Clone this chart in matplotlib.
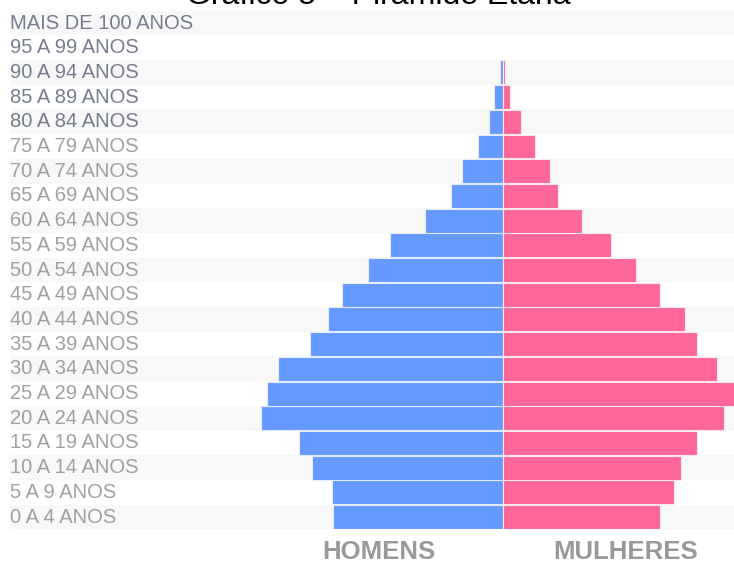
import matplotlib
matplotlib.use("Agg")
import matplotlib.pyplot as plt
import matplotlib.transforms as mtransforms

# age groups, bottom to top
faixas = ["0 A 4 ANOS", "5 A 9 ANOS", "10 A 14 ANOS", "15 A 19 ANOS", "20 A 24 ANOS",
          "25 A 29 ANOS", "30 A 34 ANOS", "35 A 39 ANOS", "40 A 44 ANOS", "45 A 49 ANOS",
          "50 A 54 ANOS", "55 A 59 ANOS", "60 A 64 ANOS", "65 A 69 ANOS", "70 A 74 ANOS",
          "75 A 79 ANOS", "80 A 84 ANOS", "85 A 89 ANOS", "90 A 94 ANOS", "95 A 99 ANOS",
          "MAIS DE 100 ANOS"]
homens = [170, 171, 191, 204, 242, 236, 225, 193, 175, 161, 135, 113, 78, 52, 41, 25, 14, 9, 3, 0, 0]
mulheres = [157, 171, 178, 194, 221, 236, 214, 194, 182, 157, 133, 108, 79, 55, 47, 32, 18, 7, 2, 0, 0]

titulo = "Gráfico 5 – Pirâmide Etária"
legenda = ["HOMENS", "MULHERES"]

W, H = 734, 561
fig = plt.figure(figsize=(W / 100, H / 100), dpi=100)
plt.rcParams["font.family"] = ["Liberation Sans", "DejaVu Sans"]

ax = fig.add_axes([10 / W, 1 - 529.4 / H, 724 / W, (529.4 - 10.65) / H])
ax.set_xlim(-493, 231)
ax.set_ylim(-0.5, len(faixas) - 0.5)

# alternating row stripes
for i in range(0, len(faixas), 2):
    ax.axhspan(i - 0.5, i + 0.5, color="#f8f8f8", lw=0, zorder=0)

y = list(range(len(faixas)))
lw_h = [0.8 if v > 0 else 0 for v in homens]
lw_m = [0.8 if v > 0 else 0 for v in mulheres]
ax.barh(y, [-v for v in homens], height=0.97, color="#6699ff", edgecolor="#e6ecff", lw=lw_h, zorder=2)
ax.barh(y, mulheres, height=0.97, color="#ff6699", edgecolor="#ffe6ee", lw=lw_m, zorder=2)

trans = mtransforms.blended_transform_factory(ax.transAxes, ax.transData)
for i, lab in enumerate(faixas):
    cor = "#767d8c" if i >= 16 else "#a0a0a0"
    ax.text(0.0, i, lab, transform=trans, ha="left", va="center",
            fontsize=14.5, color=cor, zorder=3)

for s in ax.spines.values():
    s.set_visible(False)
ax.set_xticks([])
ax.set_yticks([])

fig.text(378 / W, 1 - 3.5 / H, titulo, ha="center", va="baseline", fontsize=23, color="black")
fig.text(379 / W, 1 - 559 / H, legenda[0], ha="center", va="baseline",
         fontsize=18.5, fontweight="bold", color="#999999")
fig.text(626 / W, 1 - 559 / H, legenda[1], ha="center", va="baseline",
         fontsize=18.5, fontweight="bold", color="#999999")

fig.savefig("out.png", dpi=100)
